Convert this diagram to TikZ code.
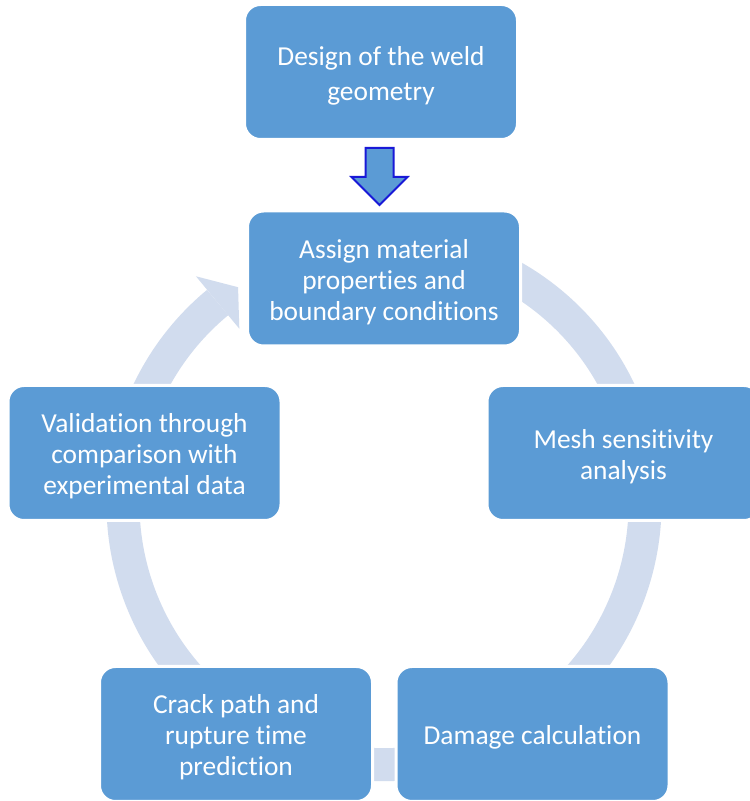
\documentclass[tikz,border=0pt]{standalone}
\usepackage{fontspec}
\setmainfont{Carlito}[Ligatures=NoCommon]
\definecolor{boxblue}{RGB}{91,155,213}
\definecolor{arclight}{RGB}{209,220,238}
\definecolor{arrowline}{RGB}{25,25,215}
\newcommand\toplift{\rule{0pt}{26pt}}
\begin{document}
\begin{tikzpicture}[x=1pt,y=1pt,
  stepbox/.style={rectangle, rounded corners=16pt, fill=boxblue, draw=white,
    line width=3pt, minimum width=273pt, minimum height=135pt, text=white,
    align=center, font=\fontsize{27.4}{31}\selectfont, inner sep=0pt},
  band/.style={arclight, line width=33pt},
  blockarrow/.style={fill=boxblue, draw=arrowline, line width=2pt, line join=miter}]
\useasboundingbox (0,0) rectangle (750,801);
\fill[white] (0,0) rectangle (750,801);
\coordinate (c) at (384,297.4);
% cycle band with its arrow head
\draw[band] ([shift={(110:261)}]c) arc[start angle=110, end angle=-230.4, radius=261];
\fill[arclight] ([shift={(129.6:295)}]c) -- ([shift={(124:261)}]c) -- ([shift={(129.6:227)}]c) -- cycle;
% boxes
\node[stepbox, font=\fontsize{27.4}{35}\selectfont] (design) at (381,729) {\toplift Design of the weld\\geometry};
\node[stepbox] (assign) at (384,522.5) {\toplift Assign material\\properties and\\boundary conditions};
\node[stepbox] (mesh) at (623.5,348) {\toplift Mesh sensitivity\\analysis};
\node[stepbox] (damage) at (532.5,67) {\toplift Damage calculation};
\node[stepbox] (crack) at (236,67) {\toplift Crack path and\\rupture time\\prediction};
\node[stepbox] (valid) at (144.5,348) {\toplift Validation through\\comparison with\\experimental data};
% block arrow between design and assign
\coordinate (dtip) at (379.5,596);
\draw[blockarrow] (dtip) -- ++(-28,28) -- ++(14,0) -- ++(0,29) -- ++(28,0) -- ++(0,-29) -- ++(14,0) -- cycle;
\end{tikzpicture}
\end{document}
